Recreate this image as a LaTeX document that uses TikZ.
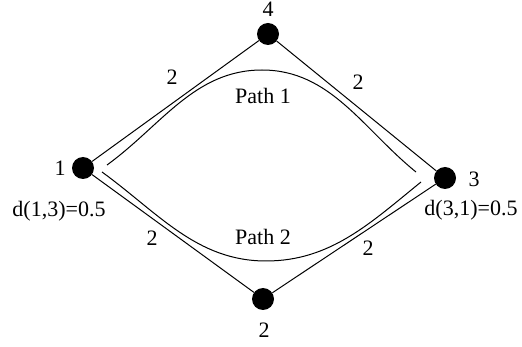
\documentclass[tikz,border=0pt]{standalone}
\usepackage{fontspec}
\setmainfont{Liberation Serif}
\begin{document}
\begin{tikzpicture}[x=1pt,y=-1pt,
  vertex/.style={circle,fill=black,inner sep=0pt,minimum size=22pt},
  lbl/.style={inner sep=0pt,font=\fontsize{22}{25}\selectfont},
  edge/.style={line width=1pt},
  pathcurve/.style={line width=1pt}]
\useasboundingbox (0,0) rectangle (522,347);
\node[vertex] (n1) at (83,168) {};
\node[vertex] (n4) at (268,34) {};
\node[vertex] (n3) at (445,178) {};
\node[vertex] (n2) at (263,299) {};
\draw[edge] (n1) -- (n4);
\draw[edge] (n4) -- (n3);
\draw[edge] (n3) -- (n2);
\draw[edge] (n2) -- (n1);
\coordinate (p1s) at (107,165);
\coordinate (p1m) at (262,70);
\coordinate (p1e) at (416,172);
\coordinate (p2s) at (102,172);
\coordinate (p2m) at (266,261);
\coordinate (p2e) at (421,182);
\draw[pathcurve] (p1s) to[out=36,in=180,looseness=0.95] (p1m) to[out=0,in=141,looseness=0.95] (p1e);
\draw[pathcurve] (p2s) to[out=-36,in=180,looseness=0.95] (p2m) to[out=0,in=-141,looseness=0.95] (p2e);
\node[lbl] (l4) at (268,9) {4};
\node[lbl] (l1) at (60,168) {1};
\node[lbl] (l3) at (474,179) {3};
\node[lbl] (l2) at (264,330) {2};
\node[lbl] (d13) at (59,211) {d(1,3)=0.5};
\node[lbl] (d31) at (471,210) {d(3,1)=0.5};
\node[lbl] (e14) at (172,77) {2};
\node[lbl] (e43) at (358,82) {2};
\node[lbl] (e12) at (152,238) {2};
\node[lbl] (e32) at (368,248) {2};
\node[lbl] (pa1) at (263,96) {Path 1};
\node[lbl] (pa2) at (263,237) {Path 2};
\end{tikzpicture}
\end{document}
